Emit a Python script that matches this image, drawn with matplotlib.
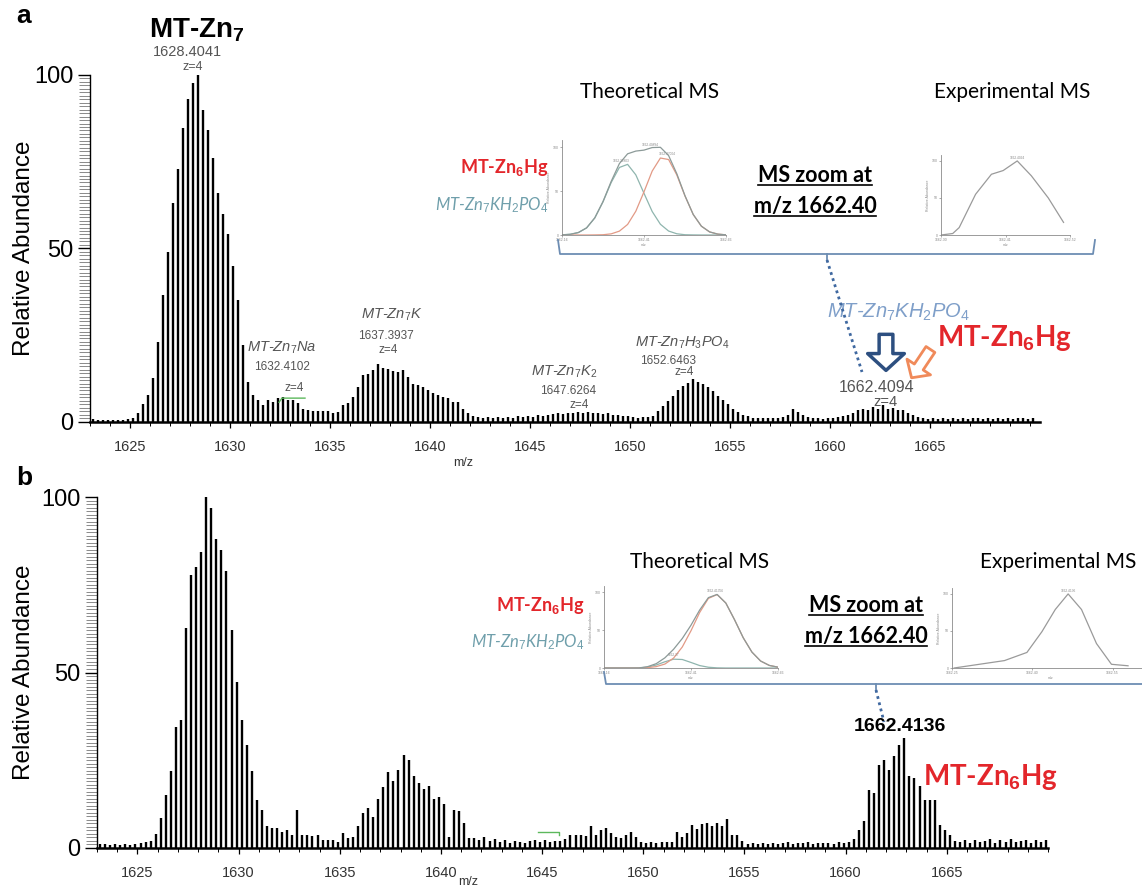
import numpy as np
import matplotlib
matplotlib.use("Agg")
import matplotlib.pyplot as plt
from matplotlib.lines import Line2D
from matplotlib.ticker import MultipleLocator

# === FUENTES ===
plt.rcParams['font.family'] = ['Liberation Sans', 'DejaVu Sans']
plt.rcParams['mathtext.fontset'] = 'custom'
plt.rcParams['mathtext.rm'] = 'Liberation Sans'
plt.rcParams['mathtext.it'] = 'Liberation Sans:italic'
plt.rcParams['mathtext.bf'] = 'Liberation Sans:bold'
CAL = ['Lato', 'DejaVu Sans']   # letra tipo Calibri de los recuadros

# === DATOS: espectros (pico cada 0.25 m/z, z=4) ===
MZ_START = 1623.15
MZ_STEP = 0.25

HEIGHTS_A = [
    0.8, 0.5, 0.6, 0.4, 0.5, 0.4, 0.6, 0.8, 1.0, 2.4,
    5.0, 7.7, 12.5, 23.0, 36.5, 49.0, 63.0, 73.0, 84.6, 93.0,
    97.6, 100.0, 90.0, 84.0, 76.0, 66.0, 60.0, 54.0, 45.0, 35.0,
    22.0, 11.5, 7.7, 6.3, 4.8, 6.3, 5.8, 6.7, 7.2, 6.3,
    6.3, 5.3, 3.8, 3.4, 3.0, 3.0, 3.2, 3.0, 2.4, 2.9,
    4.8, 5.3, 7.2, 10.0, 13.5, 13.8, 14.9, 16.6, 15.4, 15.1,
    14.7, 14.4, 14.9, 13.0, 11.0, 10.6, 10.1, 9.1, 8.2, 7.7,
    7.0, 6.7, 5.8, 5.8, 3.8, 2.4, 1.6, 1.4, 1.2, 1.4,
    1.1, 1.3, 1.0, 1.4, 1.2, 1.5, 1.3, 1.6, 1.4, 1.8,
    1.6, 2.0, 2.2, 2.4, 2.2, 2.6, 2.4, 2.8, 2.5, 2.9,
    2.4, 2.6, 2.2, 2.4, 2.0, 1.8, 1.6, 1.5, 1.3, 1.2,
    1.4, 1.3, 1.5, 3.0, 4.5, 6.0, 7.5, 9.0, 10.3, 11.3,
    12.4, 11.5, 11.0, 10.0, 8.8, 7.5, 6.3, 5.0, 3.8, 2.8,
    2.0, 1.5, 1.2, 1.0, 1.1, 1.0, 1.2, 1.1, 1.4, 2.0,
    3.8, 2.9, 1.9, 1.3, 1.0, 1.1, 0.9, 1.2, 1.0, 1.3,
    1.5, 2.0, 2.6, 3.4, 3.8, 3.4, 4.3, 3.6, 4.8, 3.8,
    4.0, 3.4, 3.4, 2.6, 1.9, 1.4, 1.1, 0.9, 1.0, 0.8,
    1.0, 0.9, 1.1, 0.8, 1.0, 0.9, 1.1, 1.0, 0.8, 1.0,
    0.9, 1.1, 0.8, 1.0, 0.9, 1.1, 1.0, 0.9, 1.0,
]

HEIGHTS_B = [
    1.2, 1.0, 0.8, 1.0, 0.8, 1.0, 0.8, 1.0, 1.5, 1.8,
    2.0, 4.0, 8.5, 15.0, 22.0, 34.6, 36.5, 62.6, 77.7, 80.0,
    84.4, 100.0, 97.0, 88.0, 85.0, 79.0, 62.0, 47.4, 36.5, 29.4,
    21.8, 13.7, 10.9, 6.2, 5.7, 5.7, 4.5, 5.2, 3.8, 10.9,
    3.8, 3.8, 3.3, 3.8, 2.4, 2.4, 2.4, 1.8, 4.3, 2.8,
    3.0, 6.3, 10.0, 11.3, 8.8, 13.9, 17.5, 21.6, 19.0, 22.3,
    26.6, 25.0, 20.6, 18.5, 16.8, 17.7, 13.9, 14.5, 12.6, 3.0,
    10.9, 10.4, 7.2, 2.8, 2.8, 2.3, 3.2, 2.0, 2.5, 1.8,
    2.2, 1.5, 2.0, 1.8, 1.5, 2.0, 2.2, 1.6, 2.4, 1.6,
    2.0, 2.0, 2.6, 3.7, 3.7, 3.7, 3.5, 6.3, 3.7, 5.1,
    5.6, 4.4, 3.2, 2.8, 3.7, 4.7, 3.2, 1.8, 1.5, 1.8,
    1.5, 1.8, 1.6, 1.8, 4.7, 3.2, 4.2, 6.6, 5.3, 6.8,
    7.0, 6.3, 7.0, 6.3, 8.3, 3.8, 3.6, 1.9, 1.2, 1.5,
    1.2, 1.4, 1.1, 1.5, 1.2, 1.4, 1.8, 1.2, 1.5, 1.3,
    1.6, 1.2, 1.4, 1.3, 1.5, 1.2, 1.6, 1.4, 1.8, 2.6,
    5.2, 7.6, 16.6, 15.7, 23.7, 25.2, 22.3, 26.1, 29.4, 31.3,
    20.4, 19.9, 17.6, 13.8, 13.8, 13.8, 6.6, 5.2, 3.8, 2.0,
    1.8, 2.2, 1.5, 2.4, 1.6, 2.0, 2.6, 1.5, 2.2, 1.8,
    2.5, 1.6, 2.0, 2.4, 1.5, 2.2, 1.8, 2.3, 1.6,
]

X_TICKS = [1625, 1630, 1635, 1640, 1645, 1650, 1655, 1660, 1665]
Y_TICKS = [0, 50, 100]
XLIM_A = (1623.0, 1670.5)
XLIM_B = (1623.0, 1670.0)

# === DATOS: recuadros "MS zoom at m/z 1662.40" ===
THEO_MZ = np.linspace(1662.16, 1662.66, 21)
THEO_A_KH2PO4 = [0.2, 0.8, 2.8, 8.1, 19.4, 37.7, 59.7, 76.8, 80.3, 68.4, 47.4,
                 26.7, 12.2, 4.5, 1.4, 0.3, 0.1, 0, 0, 0, 0]
THEO_A_HG = [0, 0, 0, 0, 0.1, 0.3, 1.3, 4.4, 12.0, 27.0, 49.1,
             72.7, 87.5, 85.8, 68.3, 44.3, 23.3, 10.0, 3.5, 1.0, 0.2]
THEO_A_SUM = [0.2, 0.8, 2.8, 8.1, 19.5, 38.0, 61.0, 81.2, 92.3, 95.4, 96.5,
              99.4, 99.7, 90.3, 69.7, 44.6, 23.4, 10.0, 3.5, 1.0, 0.2]
THEO_B_HG = [0, 0, 0, 0, 0.1, 0.5, 1.8, 5.2, 13.1, 27.7, 49.1,
             73.2, 91.7, 96.7, 85.6, 63.7, 39.9, 21.0, 9.2, 3.4, 1.1]
THEO_B_KH2PO4 = [0, 0, 0, 0, 0, 1.2, 3.9, 8.2, 11.6, 11.2, 7.3,
                 3.2, 1.0, 0.2, 0, 0, 0, 0, 0, 0, 0]
THEO_B_SUM = [0, 0, 0, 0, 0.1, 1.7, 5.7, 13.4, 24.7, 38.9, 56.4,
              76.4, 92.7, 96.9, 85.6, 63.7, 39.9, 21.0, 9.2, 3.4, 1.1]

EXP_A_MZ = [1662.300, 1662.320, 1662.331, 1662.359, 1662.386,
            1662.406, 1662.430, 1662.454, 1662.483, 1662.509]
EXP_A_INT = [0, 2, 10, 55, 82, 87, 100, 80, 50, 17]
EXP_B_MZ = [1662.254, 1662.348, 1662.390, 1662.418, 1662.443,
            1662.467, 1662.492, 1662.520, 1662.548, 1662.579]
EXP_B_INT = [0, 10, 21, 49, 79, 100, 79, 33, 5, 3]

# === COLORES ===
RED = '#e3262b'
TEAL = '#6f9fab'
LBLUE = '#7f9fc9'
GREY = '#555555'
BRACKET = '#6d8db3'

# === FIGURA ===
W, H = 1142, 889
fig = plt.figure(figsize=(W / 100, H / 100), dpi=100)


def fx(x):
    return x / W


def fy(y):
    return 1 - y / H


def rect(x0, y0, x1, y1):
    return [fx(x0), fy(y1), (x1 - x0) / W, (y1 - y0) / H]


def fig_line(xs, ys, **kw):
    fig.add_artist(Line2D([fx(v) for v in xs], [fy(v) for v in ys],
                          transform=fig.transFigure, **kw))


def fig_text(x, y, s, **kw):
    kw.setdefault('ha', 'center')
    kw.setdefault('va', 'center')
    return fig.text(fx(x), fy(y), s, **kw)


def spectrum(ax, mz, heights, xlim):
    ax.vlines(mz, 0, heights, color='black', lw=1.7)
    ax.set_xlim(*xlim)
    ax.set_ylim(0, 100)
    for s in ('top', 'right'):
        ax.spines[s].set_visible(False)
    ax.spines['left'].set_linewidth(1.0)
    ax.spines['bottom'].set_linewidth(1.8)
    ax.set_xticks(X_TICKS)
    ax.set_yticks(Y_TICKS)
    ax.xaxis.set_minor_locator(MultipleLocator(1))
    ax.yaxis.set_minor_locator(MultipleLocator(1))
    ax.tick_params(axis='y', which='major', length=9, width=1.0, labelsize=17, pad=3)
    ax.tick_params(axis='y', which='minor', length=8, width=0.6, color='#777777')
    ax.tick_params(axis='x', which='major', length=4, width=0.9, labelsize=10.5,
                   pad=9, labelcolor='#333333')
    ax.tick_params(axis='x', which='minor', length=3, width=0.7)
    ax.patch.set_alpha(0)


def inset(box, lines, xlim, xticks, xlabels, peak_labels):
    ax = fig.add_axes(rect(*box))
    for x, y, c in lines:
        ax.plot(x, y, color=c, lw=0.9)
    ax.set_ylim(0, 108)
    ax.set_xlim(*xlim)
    for s in ('top', 'right'):
        ax.spines[s].set_visible(False)
    for s in ('left', 'bottom'):
        ax.spines[s].set_color('#8a8a8a')
        ax.spines[s].set_linewidth(0.6)
    ax.set_xticks(xticks)
    ax.set_xticklabels(xlabels)
    ax.set_yticks([0, 50, 100])
    ax.tick_params(length=1.5, width=0.5, labelsize=2.5, colors='#8a8a8a', pad=1)
    ax.set_ylabel('Relative Abundance', fontsize=2.5, color='#8a8a8a', labelpad=1)
    ax.set_xlabel('m/z', fontsize=2.5, color='#8a8a8a', labelpad=0.5)
    for s, x, y in peak_labels:
        ax.text(x, y, s, fontsize=2.3, color='#8a8a8a', ha='center', va='bottom')
    ax.patch.set_alpha(0)
    return ax


mz_a = MZ_START + MZ_STEP * np.arange(len(HEIGHTS_A))
mz_b = MZ_START + MZ_STEP * np.arange(len(HEIGHTS_B))

ax_a = fig.add_axes(rect(90, 75, 1040, 421.7))
ax_b = fig.add_axes(rect(97, 497, 1048, 848))
spectrum(ax_a, mz_a, HEIGHTS_A, XLIM_A)
spectrum(ax_b, mz_b, HEIGHTS_B, XLIM_B)

for y0, y1, letter, ly in [(75, 421.7, 'a', 16), (497, 848, 'b', 478)]:
    fig_text(24, (y0 + y1) / 2, 'Relative Abundance', rotation=90, fontsize=17.5)
    fig_text(16, ly, letter, fontsize=19, fontweight='bold', ha='left')
fig_text(463, 463, 'm/z', fontsize=9, color='#333333')
fig_text(468, 882, 'm/z', fontsize=9, color='#333333')

# === ANOTACIONES PANEL A ===
ax_a.text(1628.35, 113, r'MT-Zn$_\mathbf{7}$', fontsize=20, fontweight='bold',
          ha='center', va='center', clip_on=False)
ax_a.text(1627.85, 106.5, '1628.4041', fontsize=10.5, color=GREY, ha='center',
          va='center', clip_on=False)
ax_a.text(1628.15, 102.3, 'z=4', fontsize=9, color=GREY, ha='center', va='center',
          clip_on=False)

gray_labels = [
    (r'MT-Zn$_\mathit{7}$Na', 1632.6, 21.3, 10.5),
    ('1632.4102', 1632.6, 15.8, 8.5),
    ('z=4', 1633.2, 9.8, 8.5),
    (r'MT-Zn$_\mathit{7}$K', 1638.1, 30.8, 10.5),
    ('1637.3937', 1637.8, 24.6, 8.5),
    ('z=4', 1637.9, 20.7, 8.5),
    (r'MT-Zn$_\mathit{7}$K$_\mathit{2}$', 1646.7, 14.4, 10.5),
    ('1647.6264', 1646.9, 8.8, 8.5),
    ('z=4', 1647.45, 4.8, 8.5),
    (r'MT-Zn$_\mathit{7}$H$_\mathit{3}$PO$_\mathit{4}$', 1652.6, 22.8, 10.5),
    ('1652.6463', 1651.9, 17.5, 8.5),
    ('z=4', 1652.7, 14.4, 8.5),
]
for s, x, y, size in gray_labels:
    ax_a.text(x, y, s, fontsize=size, color=GREY, ha='center', va='center',
              style='italic' if s.startswith('MT') else 'normal')

ax_a.plot([1632.45, 1632.6, 1633.75], [5.6, 6.8, 6.8], color='#5cb85c', lw=1.0)

ax_a.text(1663.45, 31.5, r'MT-Zn$_\mathit{7}$KH$_\mathit{2}$PO$_\mathit{4}$', fontsize=14.5,
          color=LBLUE, style='italic', ha='center', va='center')
ax_a.text(1668.75, 24.0, r'MT-Zn$_\mathbf{6}$Hg', fontsize=20, fontweight='bold',
          color=RED, family=CAL, ha='center', va='center', clip_on=False)
ax_a.text(1662.35, 10.0, '1662.4094', fontsize=11.5, color=GREY, ha='center', va='center')
ax_a.text(1662.75, 5.6, 'z=4', fontsize=10.5, color=GREY, ha='center', va='center')
ax_a.annotate('', xy=(1662.8, 14.0), xytext=(1662.8, 26.0),
              arrowprops=dict(arrowstyle='simple,head_length=0.55,head_width=1.2,tail_width=0.45',
                              fc='white', ec='#2d4f80', lw=2.5, mutation_scale=22))
ax_a.annotate('', xy=(1664.0, 12.0), xytext=(1665.1, 21.5),
              arrowprops=dict(arrowstyle='simple,head_length=0.55,head_width=1.2,tail_width=0.45',
                              fc='white', ec='#f08a5a', lw=2.0, mutation_scale=17))

# === ANOTACIONES PANEL B ===
ax_b.text(1662.67, 34.5, '1662.4136', fontsize=14, fontweight='bold', ha='center',
          va='center')
ax_b.text(1667.15, 20.2, r'MT-Zn$_\mathbf{6}$Hg', fontsize=20, fontweight='bold',
          color=RED, family=CAL, ha='center', va='center', clip_on=False)
ax_b.plot([1644.8, 1645.85, 1645.85], [4.6, 4.6, 3.7], color='#5cb85c', lw=1.0)

# === RECUADROS DE ZOOM ===
theo_lim = (1662.16, 1662.66)
theo_ticks = [1662.16, 1662.41, 1662.66]
theo_lbls = ['1662.16', '1662.41', '1662.66']

# panel a
fig_text(650, 92, 'Theoretical MS', fontsize=15, family=CAL)
fig_text(1012, 92, 'Experimental MS', fontsize=15, family=CAL)
fig_text(548, 168, r'MT-Zn$_\mathbf{6}$Hg', fontsize=13, fontweight='bold', color=RED,
         family=CAL, ha='right')
fig_text(549, 205, r'MT-Zn$_\mathit{7}$KH$_\mathit{2}$PO$_\mathit{4}$', fontsize=12,
         style='italic', color=TEAL, family=CAL, ha='right')
inset((562, 140, 726, 235),
      [(THEO_MZ, THEO_A_KH2PO4, '#8fb5ae'), (THEO_MZ, THEO_A_HG, '#e29a86'),
       (THEO_MZ, THEO_A_SUM, '#8c9a98')],
      theo_lim, theo_ticks, theo_lbls,
      [('1662.40894', 1662.43, 100), ('1662.36803', 1662.34, 82),
       ('1662.47004', 1662.48, 90)])
inset((941, 155, 1070, 235), [(EXP_A_MZ, EXP_A_INT, '#9a9a9a')],
      (1662.30, 1662.52), [1662.30, 1662.41, 1662.52], ['1662.30', '1662.41', '1662.52'],
      [('1662.4094', 1662.43, 101)])

# panel b
fig_text(700, 562, 'Theoretical MS', fontsize=15, family=CAL)
fig_text(1058, 562, 'Experimental MS', fontsize=15, family=CAL)
fig_text(584, 606, r'MT-Zn$_\mathbf{6}$Hg', fontsize=13, fontweight='bold', color=RED,
         family=CAL, ha='right')
fig_text(585, 642, r'MT-Zn$_\mathit{7}$KH$_\mathit{2}$PO$_\mathit{4}$', fontsize=12,
         style='italic', color=TEAL, family=CAL, ha='right')
inset((604, 586, 778, 668),
      [(THEO_MZ, THEO_B_KH2PO4, '#8fb5ae'), (THEO_MZ, THEO_B_HG, '#e29a86'),
       (THEO_MZ, THEO_B_SUM, '#8c9a98')],
      theo_lim, theo_ticks, theo_lbls,
      [('1662.41356', 1662.48, 99), ('1662.37', 1662.36, 14)])
inset((952, 588, 1150, 668), [(EXP_B_MZ, EXP_B_INT, '#9a9a9a')],
      (1662.25, 1662.62), [1662.25, 1662.40, 1662.55], ['1662.25', '1662.40', '1662.55'],
      [('1662.4136', 1662.467, 101)])

# "MS zoom at / m/z 1662.40" subrayado
zoom_texts = []
for cx, y1, y2 in [(815, 175, 206), (866, 605, 636)]:
    zoom_texts.append(fig_text(cx, y1, 'MS zoom at', fontsize=15.5, fontweight='bold',
                               family=CAL))
    zoom_texts.append(fig_text(cx, y2, 'm/z 1662.40', fontsize=15.5, fontweight='bold',
                               family=CAL))
fig.canvas.draw()
rend = fig.canvas.get_renderer()
for t in zoom_texts:
    bb = t.get_window_extent(rend)
    fig.add_artist(Line2D([bb.x0 / fig.bbox.width, bb.x1 / fig.bbox.width],
                          [(bb.y0 + 1) / fig.bbox.height] * 2,
                          transform=fig.transFigure, color='black', lw=1.2))

# corchetes y líneas punteadas
fig_line([558, 560, 1093, 1095], [240, 254, 254, 240], color=BRACKET, lw=1.3)
fig_line([827, 827], [254, 260], color=BRACKET, lw=1.3)
fig_line([827, 862], [260, 372], color='#3f68a0', lw=2.0, ls=(0, (1, 1.3)))

fig_line([604, 606, 1150], [672, 684, 684], color=BRACKET, lw=1.3)
fig_line([876, 876], [684, 690], color=BRACKET, lw=1.3)
fig_line([876, 884], [690, 722], color='#3f68a0', lw=2.0, ls=(0, (1, 1.3)))

fig.savefig('out.png', dpi=100)
